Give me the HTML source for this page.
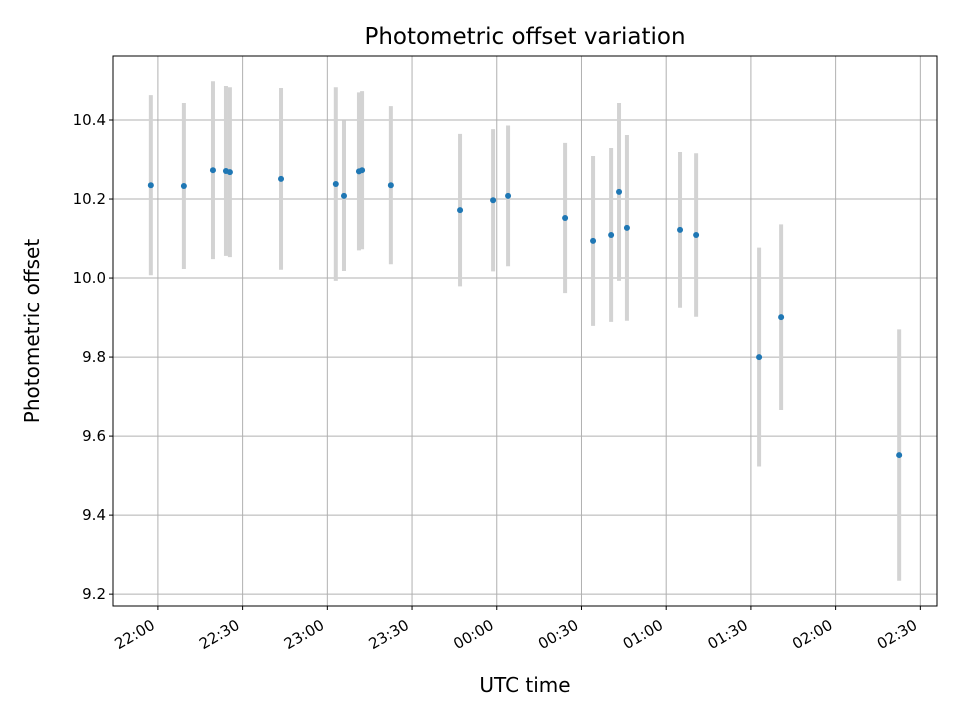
<!DOCTYPE html>
<html><head><meta charset="utf-8"><style>
body{margin:0;background:#fff;font-family:"Liberation Sans","DejaVu Sans",sans-serif;}
</style></head><body>
<svg id="chart" width="960" height="720" xmlns="http://www.w3.org/2000/svg" font-family="DejaVu Sans, Liberation Sans, sans-serif"></svg>
<script>
// minutes after 22:00 UTC
const times=[-2.5,9.2,19.5,24.1,25.5,43.6,63,65.9,71.2,72.3,82.5,107,118.7,124,144.2,154.1,160.5,163.3,166.1,184.9,190.6,212.9,220.7,262.5];
const offsets=[10.235,10.233,10.273,10.271,10.268,10.251,10.238,10.208,10.27,10.273,10.235,10.172,10.197,10.208,10.152,10.094,10.109,10.218,10.127,10.122,10.109,9.8,9.901,9.552];
const errors=[0.228,0.21,0.225,0.215,0.215,0.23,0.245,0.19,0.2,0.2,0.2,0.193,0.18,0.178,0.19,0.215,0.22,0.225,0.235,0.197,0.207,0.277,0.235,0.318];
const yTicks=[9.2,9.4,9.6,9.8,10.0,10.2,10.4];
const xTicks=[0,30,60,90,120,150,180,210,240,270];
const xTickLabels=["22:00","22:30","23:00","23:30","00:00","00:30","01:00","01:30","02:00","02:30"];

const L=113,R=937,T=56,B=606;
const xMin=-15.9,xMax=275.9,yMin=9.170,yMax=10.562;
const X=v=>L+(v-xMin)/(xMax-xMin)*(R-L);
const Y=v=>B-(v-yMin)/(yMax-yMin)*(B-T);
const svg=document.getElementById('chart');
const NS='http://www.w3.org/2000/svg';
function mk(tag,attrs,parent){const e=document.createElementNS(NS,tag);for(const k in attrs)e.setAttribute(k,attrs[k]);(parent||svg).appendChild(e);return e;}

const grid=mk('g',{});


xTicks.forEach((t,i)=>{
  const x=X(t);
  mk('line',{x1:x,x2:x,y1:T,y2:B,stroke:'#b0b0b0','stroke-width':1},grid);
  mk('line',{x1:x,x2:x,y1:B,y2:B+4,stroke:'#000','stroke-width':1});
  const ax=x-2, ay=B+22;
  const tx=mk('text',{x:ax,y:ay,'font-size':15,'text-anchor':'end',transform:`rotate(-30 ${ax} ${ay})`});
  
  
  tx.textContent=xTickLabels[i];
});
yTicks.forEach(v=>{
  const y=Y(v);
  mk('line',{x1:L,x2:R,y1:y,y2:y,stroke:'#b0b0b0','stroke-width':1},grid);
  mk('line',{x1:L-4,x2:L,y1:y,y2:y,stroke:'#000','stroke-width':1});
  const tx=mk('text',{x:L-7,y:y+5,'font-size':15,'text-anchor':'end'});
  
  
  tx.textContent=v.toFixed(1);
});
times.forEach((t,i)=>{
  const eb=mk('line',{x1:X(t),x2:X(t),y1:Y(offsets[i]+errors[i]),y2:Y(offsets[i]-errors[i]),stroke:'#d3d3d3','stroke-width':4});
  
  
});
times.forEach((t,i)=>{
  const c=mk('circle',{cx:X(t),cy:Y(offsets[i]),r:3,fill:'#1f77b4'});
  
  
});
const frame=mk('rect',{x:L,y:T,width:R-L,height:B-T,fill:'none',stroke:'#000','stroke-width':1});


const title=mk('text',{x:(L+R)/2,y:44,'font-size':23,'text-anchor':'middle'});


title.textContent='Photometric offset variation';
const xl=mk('text',{x:(L+R)/2,y:692,'font-size':20,'text-anchor':'middle'});


xl.textContent='UTC time';
const yl=mk('text',{x:39,y:331,'font-size':20,'text-anchor':'middle',transform:`rotate(-90 39 331)`});


yl.textContent='Photometric offset';
</script>
</body></html>
